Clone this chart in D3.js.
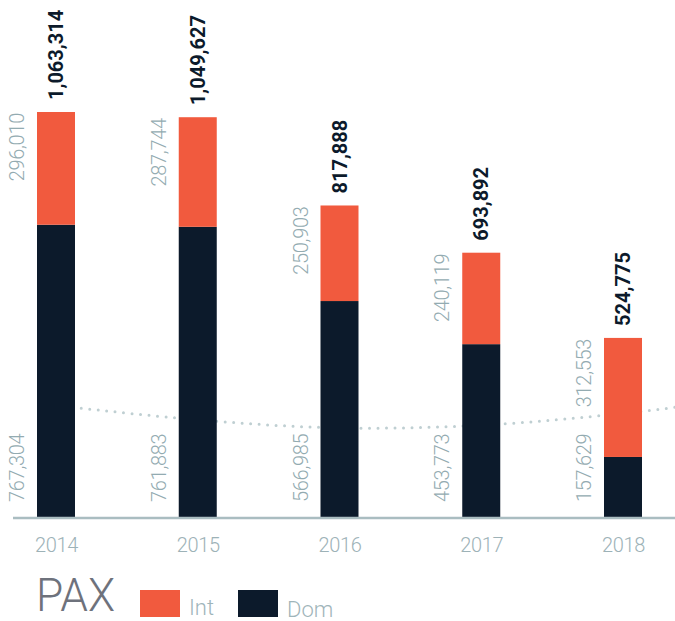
<!DOCTYPE html>
<html>
<head>
<meta charset="utf-8">
<script src="https://cdn.jsdelivr.net/npm/d3@7"></script>
<style>
  html, body { margin: 0; padding: 0; background: #ffffff; }
  svg { display: block; font-family: Roboto, "DejaVu Sans", sans-serif; }
</style>
</head>
<body>
<svg id="chart" width="675" height="621"></svg>
<script>
// ---- data ----
const years = ["2014", "2015", "2016", "2017", "2018"];
const domValues = [767304, 761883, 566985, 453773, 157629];
const intValues = [296010, 287744, 250903, 240119, 312553];
const totalValues = [1063314, 1049627, 817888, 693892, 524775];
const seriesNames = ["Int", "Dom"];
// decorative dotted trend line (x in year index units, y in passengers)
const trendIdx = [0, 1, 2, 3, 4, 4.45];
const trendVal = [293000, 255000, 234000, 241000, 272000, 292000];

// ---- styles ----
const colInt = "#F15A3E";
const colDom = "#0C1A2B";
const colGray = "#93ABB1";
const colAxis = "#AABDC1";

const svg = d3.select("#chart");
const baseY = 517;

const x = d3.scalePoint().domain(years).range([56, 623]);
const xi = d3.scaleLinear().domain([0, years.length - 1]).range([56, 623]);
const y = d3.scaleLinear().domain([0, 1063314]).range([baseY, 112]);
const barW = 38;

const rows = years.map((yr, i) => ({
  year: yr, Dom: domValues[i], Int: intValues[i], total: totalValues[i]
}));
const stack = d3.stack().keys(["Dom", "Int"])(rows);

// dotted background curve
const trend = trendIdx.map((t, i) => [t, trendVal[i]]);
svg.append("path")
  .datum(trend)
  .attr("d", d3.line().x(d => xi(d[0])).y(d => y(d[1])).curve(d3.curveCatmullRom))
  .attr("fill", "none")
  .attr("stroke", "#BFCFD2")
  .attr("stroke-width", 3)
  .attr("stroke-linecap", "round")
  .attr("stroke-dasharray", "0 8.5");

// bars
const colors = { Dom: colDom, Int: colInt };
svg.append("g").selectAll("g")
  .data(stack)
  .join("g")
  .attr("fill", d => colors[d.key])
  .selectAll("rect")
  .data(d => d)
  .join("rect")
  .attr("x", d => x(d.data.year) - barW / 2)
  .attr("width", barW)
  .attr("y", d => y(d[1]))
  .attr("height", d => y(d[0]) - y(d[1]));

// baseline
svg.append("line")
  .attr("x1", 13).attr("x2", 675)
  .attr("y1", baseY + 1).attr("y2", baseY + 1)
  .attr("stroke", colAxis).attr("stroke-width", 2.5);

// year axis labels
const axis = svg.append("g")
  .attr("transform", `translate(0,${baseY})`)
  .call(d3.axisBottom(x).tickSize(0).tickPadding(0));
axis.select(".domain").remove();
axis.selectAll("text")
  .attr("y", 35)
  .attr("dy", 0)
  .attr("font-size", 20)
  .attr("font-weight", 300)
  .attr("font-family", "Roboto, sans-serif")
  .attr("letter-spacing", -0.3)
  .attr("fill", "#9DB2B7");

const fmt = d3.format(",");

// total labels (bold, rotated)
svg.append("g").selectAll("text")
  .data(rows)
  .join("text")
  .attr("transform", d => `translate(${x(d.year)},${y(d.Dom + d.Int) - 12}) rotate(-90)`)
  .attr("dy", "0.36em")
  .attr("text-anchor", "start")
  .attr("font-size", 20)
  .attr("font-weight", 700)
  .attr("fill", colDom)
  .text(d => fmt(d.total));

// Int labels
svg.append("g").selectAll("text")
  .data(rows)
  .join("text")
  .attr("transform", d => `translate(${x(d.year) - barW / 2 - 20},${y(d.Dom + d.Int) + 1}) rotate(-90)`)
  .attr("dy", "0.36em")
  .attr("text-anchor", "end")
  .attr("font-size", 20)
  .attr("font-weight", 300)
  .attr("letter-spacing", -0.3)
  .attr("fill", colGray)
  .text(d => fmt(d.Int));

// Dom labels
svg.append("g").selectAll("text")
  .data(rows)
  .join("text")
  .attr("transform", d => `translate(${x(d.year) - barW / 2 - 20},${baseY - 15}) rotate(-90)`)
  .attr("dy", "0.36em")
  .attr("text-anchor", "start")
  .attr("font-size", 20)
  .attr("font-weight", 300)
  .attr("letter-spacing", -0.3)
  .attr("fill", colGray)
  .text(d => fmt(d.Dom));

// legend
const lg = svg.append("g");
lg.append("text")
  .attr("x", 36).attr("y", 611)
  .attr("font-size", 46)
  .attr("font-weight", 300)
  .attr("fill", "#6E727C")
  .attr("textLength", 79)
  .attr("lengthAdjust", "spacingAndGlyphs")
  .text("PAX");

const legendX = [140, 238];
const legendBase = [615, 617];
seriesNames.forEach((name, i) => {
  lg.append("rect")
    .attr("x", legendX[i]).attr("y", 590)
    .attr("width", 40).attr("height", 27)
    .attr("fill", colors[name]);
  lg.append("text")
    .attr("x", legendX[i] + 49).attr("y", legendBase[i])
    .attr("font-size", 22)
    .attr("font-weight", 300)
    .attr("fill", "#9FB5BA")
    .text(name);
});
</script>
</body>
</html>
